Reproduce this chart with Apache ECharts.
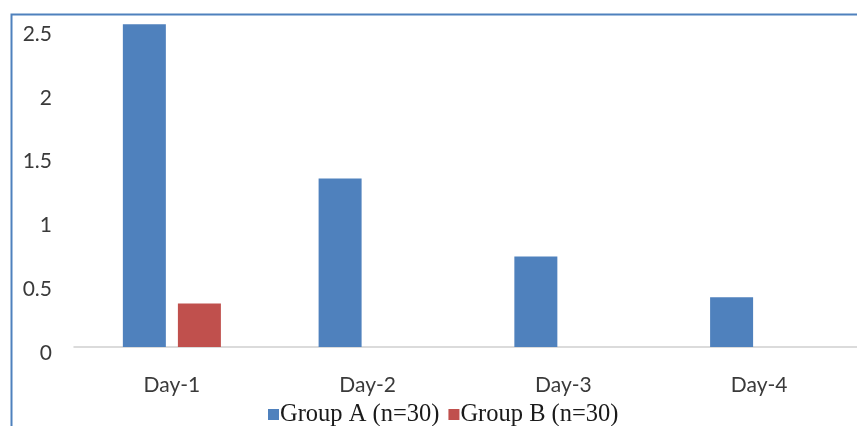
<!DOCTYPE html>
<html>
<head>
<meta charset="utf-8">
<script src="https://cdn.jsdelivr.net/npm/echarts@6/dist/echarts.min.js"></script>
<style>
html,body{margin:0;padding:0;background:#fff;}
#chart{width:857px;height:426px;}
</style>
</head>
<body>
<div id="chart"></div>
<script>
var categories = ['Day-1', 'Day-2', 'Day-3', 'Day-4'];
var groupA = [2.53, 1.32, 0.71, 0.39];
var groupB = [0.34, 0, 0, 0];
var yTicks = { min: 0, max: 2.5, interval: 0.5 };
var seriesNames = ['Group A (n=30)', 'Group B (n=30)'];

var chart = echarts.init(document.getElementById('chart'));
chart.setOption({
  animation: false,
  backgroundColor: '#ffffff',
  graphic: [{
    type: 'rect',
    left: 9, top: 12,
    shape: { width: 900, height: 500 },
    style: { fill: 'none', stroke: '#4f81bd', lineWidth: 2 },
    silent: true
  }],
  grid: { left: 74, top: 28, bottom: 79, width: 789 },
  legend: {
    left: 263, top: 397,
    itemWidth: 11, itemHeight: 11, itemGap: 9,
    icon: 'rect',
    textStyle: { fontFamily: 'Liberation Serif', fontSize: 24.5, color: '#1a1a1a', padding: [0, 0, 0, -4] },
    data: seriesNames
  },
  xAxis: {
    type: 'category',
    data: categories,
    axisLine: { lineStyle: { color: '#d0d0d0', width: 1.5 } },
    axisTick: { show: false },
    axisLabel: { fontFamily: 'Lato', fontSize: 21, color: '#3a3a3a', margin: 28 }
  },
  yAxis: {
    type: 'value',
    min: yTicks.min, max: yTicks.max, interval: yTicks.interval,
    splitLine: { show: false },
    axisLine: { show: false },
    axisTick: { show: false },
    axisLabel: {
      margin: 22,
      formatter: function (v) { return '{v|' + v + '}'; },
      rich: { v: { fontFamily: 'Lato', fontSize: 21, color: '#3a3a3a', padding: [12, 0, 0, 0] } }
    }
  },
  series: [
    { name: seriesNames[0], type: 'bar', data: groupA, barWidth: 43, barGap: '28%', clip: false,
      itemStyle: { color: '#4f81bd' } },
    { name: seriesNames[1], type: 'bar', data: groupB, barWidth: 43, clip: false,
      itemStyle: { color: '#c0504d' } }
  ]
});
</script>
</body>
</html>
